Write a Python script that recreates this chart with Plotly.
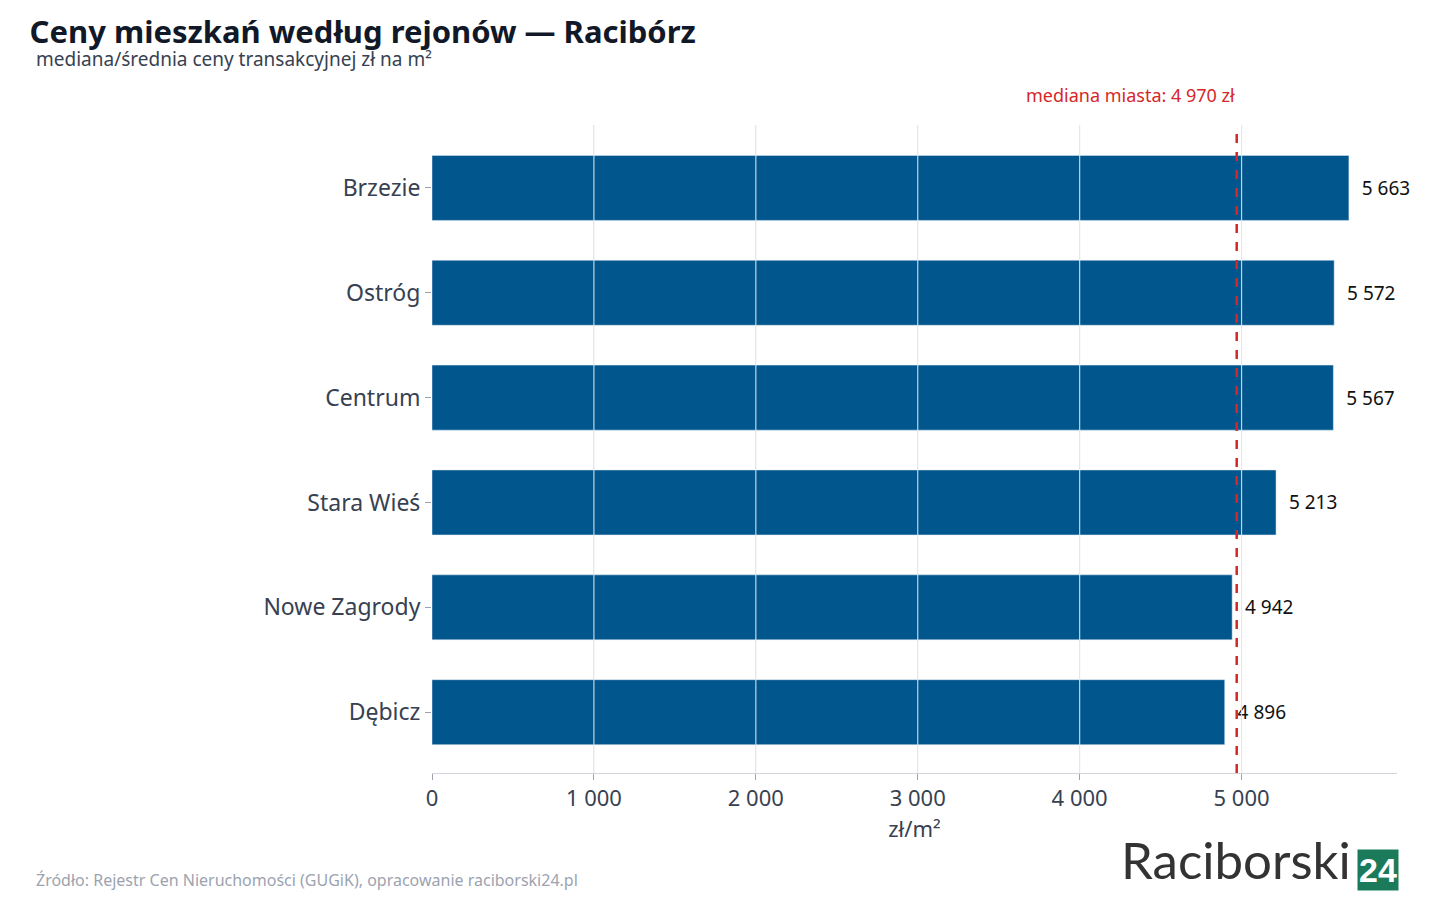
import plotly.graph_objects as go

regions = ["Brzezie", "Ostróg", "Centrum", "Stara Wieś", "Nowe Zagrody", "Dębicz"]
prices = [5663, 5572, 5567, 5213, 4942, 4896]
city_median = 4970
tick_vals = [0, 1000, 2000, 3000, 4000, 5000]
tick_text = ["0", "1 000", "2 000", "3 000", "4 000", "5 000"]

font = "Segoe UI, Noto Sans, Open Sans, sans-serif"

fig = go.Figure(go.Bar(
    x=prices[::-1], y=regions[::-1], orientation="h",
    marker_color="#01568e", width=0.62,
    text=["  " + f"{v:,}".replace(",", " ") for v in prices[::-1]],
    textposition="outside", textfont=dict(size=19, color="#111"),
    cliponaxis=False, hoverinfo="skip",
))

# light grid lines drawn over the bars, as in the original
for t in tick_vals[1:]:
    fig.add_vline(x=t, line=dict(color="rgba(229,231,235,0.85)", width=1.2), layer="above")

fig.add_vline(x=city_median, line=dict(color="#d62728", width=2.5, dash="dash"))
fig.add_annotation(x=city_median, y=1, yref="paper", yanchor="bottom", yshift=16, xanchor="right",
                   text=f"mediana miasta: {city_median:,} zł".replace(",", " "),
                   showarrow=False, font=dict(size=18, color="#d62728"))

fig.update_layout(
    width=1440, height=900,
    paper_bgcolor="white", plot_bgcolor="white",
    margin=dict(l=424, r=51, t=117, b=135),
    font=dict(family=font, color="#374151"),
    title=dict(text="<b>Ceny mieszkań według rejonów — Racibórz</b>", x=0.015, y=0.985,
               xanchor="left", yanchor="top", font=dict(size=31, color="#111827")),
    xaxis=dict(range=[0, 5960], tickvals=tick_vals, ticktext=tick_text,
               showgrid=True, gridcolor="#e5e7eb", zeroline=False,
               showline=True, linecolor="#d1d5db", ticks="outside", ticklen=6,
               tickcolor="#9ca3af", tickfont=dict(size=22),
               title=dict(text="zł/m²", font=dict(size=22), standoff=10)),
    yaxis=dict(range=[-0.58, 5.6], ticks="outside", ticklen=6, tickcolor="#9ca3af",
               tickfont=dict(size=23), showgrid=False),
    showlegend=False,
)
fig.add_annotation(xref="paper", yref="paper", x=-0.412, y=1.125, xanchor="left",
                   text="mediana/średnia ceny transakcyjnej zł na m²", showarrow=False,
                   font=dict(size=19, color="#374151"))
fig.add_annotation(xref="paper", yref="paper", x=-0.412, y=-0.185, xanchor="left",
                   text="Źródło: Rejestr Cen Nieruchomości (GUGiK), opracowanie raciborski24.pl",
                   showarrow=False, font=dict(size=16, color="#9ca3af"))
fig.add_annotation(xref="paper", yref="paper", x=0.953, y=-0.182, xanchor="right",
                   text="Raciborski", showarrow=False, borderpad=0,
                   font=dict(family="Lato, sans-serif", size=51, color="#333"))
fig.add_annotation(xref="paper", yref="paper", x=0.959, y=-0.182, xanchor="left",
                   text="<b>24</b>", showarrow=False, bgcolor="#1a7a5a",
                   font=dict(family="Arial, sans-serif", size=34, color="white"),
                   borderpad=1)

fig.write_html("out.html")
